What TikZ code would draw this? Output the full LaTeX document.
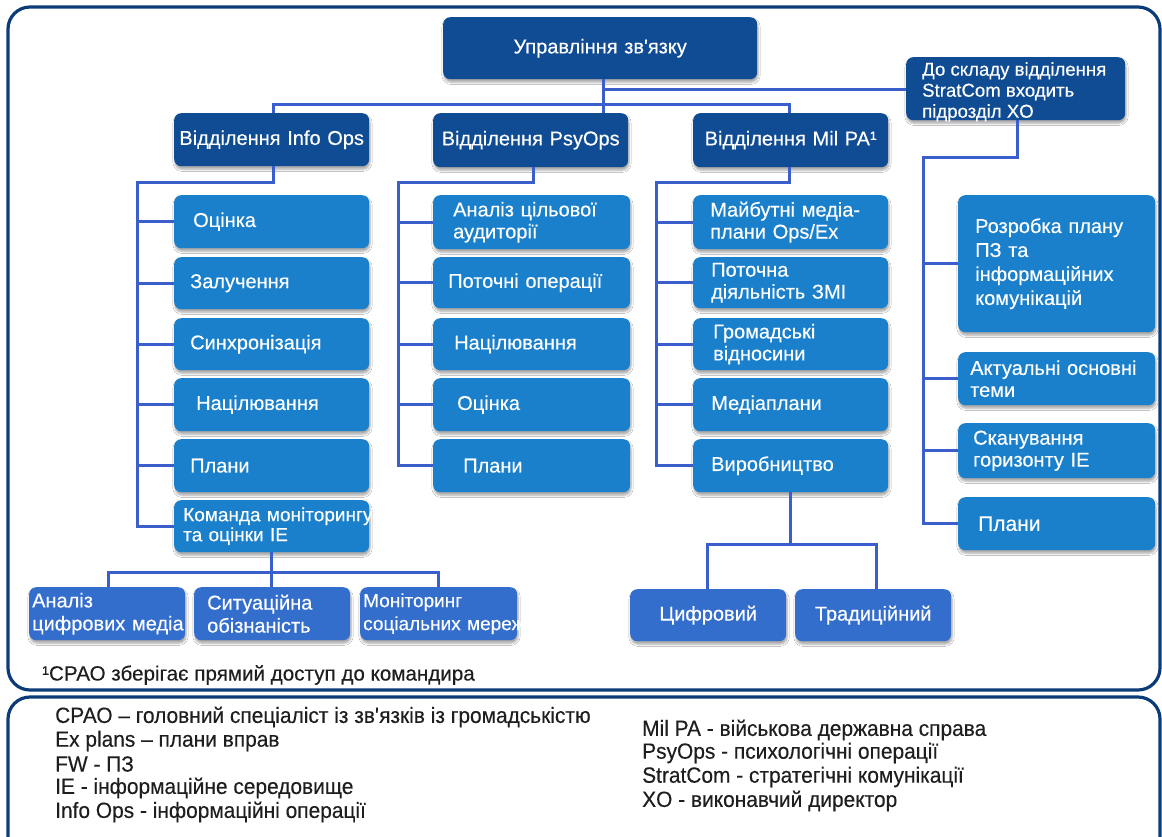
\documentclass[tikz,border=0pt]{standalone}
\usepackage{fontspec}
\setmainfont{Liberation Sans}
\newfontfamily\cardfam{Liberation Sans}[FakeBold=0.35]
\newfontfamily\notefam{Liberation Sans}[FakeBold=0.25]
\newfontfamily\legendfont{Liberation Sans}[FakeStretch=0.95,FakeBold=0.25]
\usetikzlibrary{shadows.blur}

\definecolor{navy}{RGB}{16,76,148}
\definecolor{sky}{RGB}{27,128,204}
\definecolor{royal}{RGB}{52,110,205}
\definecolor{wirecol}{RGB}{58,95,205}
\definecolor{framecol}{RGB}{12,60,120}
\definecolor{ink}{RGB}{30,30,30}

\newcommand\cardfont{\cardfam\fontsize{20}{22}\selectfont}
\newcommand\notefont{\notefam\fontsize{20.6}{24}\selectfont}
\newcommand\keyfont{\legendfont\fontsize{22}{24}\selectfont}

\begin{document}
\begin{tikzpicture}[x=1pt,y=-1pt,
  card/.style n args={3}{anchor=north west, rounded corners=7pt, text=white,
    font=\cardfont, minimum width=#1pt, minimum height=#2pt,
    inner xsep=#3pt, inner ysep=0pt, align=left,
    /utils/exec={\pgfmathsetlengthmacro\cardtw{#1pt-2*#3pt}}, text width=\cardtw,
    blur shadow={shadow xshift=0.8pt, shadow yshift=-3pt, shadow blur steps=6, shadow opacity=35}},
  dark/.style={fill=navy},
  lite/.style={fill=sky},
  roy/.style={fill=royal},
  wire/.style={draw=wirecol, line width=3pt},
  frame/.style={draw=framecol, line width=3.2pt, rounded corners=22pt},
  keyline/.style={anchor=west, inner sep=0pt, text=ink, font=\keyfont},
]
\useasboundingbox (0,0) rectangle (1162,836);
\fill[white] (0,0) rectangle (1162,836);

% outer frames
\draw[frame] (8,7) rectangle (1160,690);
\draw[frame] (8,697) rectangle (1160,880);

% head and departments
\node[card={314}{62}{10}, dark, align=center] (top) at (443,17) {Управління зв\textquotesingle язку};
\node[card={195}{53}{4}, dark, align=center] (info) at (174,113) {\mbox{Відділення Info Ops}};
\node[card={195}{54}{4}, dark, align=center] (psy) at (433,113) {\mbox{Відділення PsyOps}};
\node[card={195}{54}{4}, dark, align=center] (mil) at (693,113) {\mbox{Відділення Mil PA¹}};
\node[card={219}{63}{16}, dark] (strat) at (906,57) {};
\node[anchor=north west, inner sep=0pt, text=white, align=left,
      font=\cardfam\fontsize{18.6}{21}\selectfont] (stratlbl) at (922,62)
  {До складу відділення\\StratCom входить\\підрозділ XO};

% Info Ops column
\node[card={195}{53}{19}, lite] (i1) at (174,195) {Оцінка};
\node[card={195}{52}{16}, lite] (i2) at (174,257) {Залучення};
\node[card={195}{52}{16}, lite] (i3) at (174,318) {Синхронізація};
\node[card={195}{53}{22}, lite] (i4) at (174,378) {Націлювання};
\node[card={195}{53}{16}, lite] (i5) at (174,439) {Плани};
\node[card={195}{52}{9}, lite, font=\cardfam\fontsize{19}{20}\selectfont] (i6) at (174,500)
  {\mbox{Команда моніторингу}\\\mbox{та оцінки IE}};

% PsyOps column
\node[card={197}{54}{20}, lite] (p1) at (433,195) {\mbox{Аналіз цільової}\\аудиторії};
\node[card={197}{51}{15}, lite] (p2) at (433,257) {\mbox{Поточні операції}};
\node[card={197}{52}{21}, lite] (p3) at (433,318) {Націлювання};
\node[card={197}{53}{24}, lite] (p4) at (433,378) {Оцінка};
\node[card={197}{53}{30}, lite] (p5) at (433,439) {Плани};

% Mil PA column
\node[card={195}{54}{17}, lite] (m1) at (693,195) {\mbox{Майбутні медіа-}\\\mbox{плани Ops/Ex}};
\node[card={195}{51}{18}, lite] (m2) at (693,257) {Поточна\\\mbox{діяльність ЗМІ}};
\node[card={195}{52}{20}, lite] (m3) at (693,318) {Громадські\\відносини};
\node[card={195}{53}{18}, lite] (m4) at (693,378) {Медіаплани};
\node[card={195}{53}{18}, lite] (m5) at (693,439) {Виробництво};

% StratCom column
\node[card={197}{137}{17}, lite, font=\cardfam\fontsize{20}{24}\selectfont] (r1) at (958,195)
  {\mbox{Розробка плану}\\ПЗ та\\\mbox{інформаційних}\\комунікацій};
\node[card={197}{53}{12}, lite] (r2) at (958,352) {\mbox{Актуальні основні}\\теми};
\node[card={197}{55}{15}, lite] (r3) at (958,423) {Сканування\\\mbox{горизонту IE}};
\node[card={197}{53}{20}, lite, font=\cardfam\fontsize{21}{22}\selectfont] (r4) at (958,497) {Плани};

% monitoring team units
\node[card={156}{53}{3}, roy, font=\cardfam\fontsize{20}{23}\selectfont] (a1) at (29,587)
  {Аналіз\\\mbox{цифрових медіа}};
\node[card={156}{53}{13}, roy, font=\cardfam\fontsize{20}{23}\selectfont] (a2) at (194,587)
  {Ситуаційна\\обізнаність};
\node[card={157}{53}{3}, roy, font=\cardfam\fontsize{19}{23}\selectfont] (a3) at (360,587)
  {Моніторинг\\\mbox{соціальних мереж}};

% production units
\node[card={156}{52}{4}, roy, align=center] (c1) at (630,589) {Цифровий};
\node[card={156}{52}{4}, roy, align=center] (c2) at (795,589) {Традиційний};

% junction points
\coordinate (hub) at (603,89);
\coordinate (busL) at (273,104);
\coordinate (busR) at (789,104);
\coordinate (iT) at (273,182);
\coordinate (iL) at (137,182);
\coordinate (pT) at (533,182);
\coordinate (pL) at (398,182);
\coordinate (mT) at (789,182);
\coordinate (mL) at (656,182);
\coordinate (sT) at (1017,157);
\coordinate (sL) at (923,157);
\coordinate (kL) at (108,572);
\coordinate (kR) at (438,572);
\coordinate (vC) at (790,544);
\coordinate (vL) at (707,544);
\coordinate (vR) at (876,544);

% head links
\draw[wire] (top.south -| hub) -- (hub) -- (strat.west |- hub);
\draw[wire] (hub) -- (hub |- psy.north);
\draw[wire] (info.north -| busL) -- (busL) -- (busR) -- (busR |- mil.north);

% Info Ops comb
\draw[wire] (info.south -| iT) -- (iT) -- (iL) -- (iL |- i6.west) -- (i6.west);
\foreach \n in {i1,i2,i3,i4,i5} \draw[wire] (iL |- \n.west) -- (\n.west);

% PsyOps comb
\draw[wire] (psy.south -| pT) -- (pT) -- (pL) -- (pL |- p5.west) -- (p5.west);
\foreach \n in {p1,p2,p3,p4} \draw[wire] (pL |- \n.west) -- (\n.west);

% Mil PA comb
\draw[wire] (mil.south -| mT) -- (mT) -- (mL) -- (mL |- m5.west) -- (m5.west);
\foreach \n in {m1,m2,m3,m4} \draw[wire] (mL |- \n.west) -- (\n.west);

% StratCom comb
\draw[wire] (strat.south -| sT) -- (sT) -- (sL) -- (sL |- r4.west) -- (r4.west);
\foreach \n in {r1,r2,r3} \draw[wire] (sL |- \n.west) -- (\n.west);

% monitoring team branches
\draw[wire] (i6.south) -- (i6.south |- a2.north);
\draw[wire] (a1.north -| kL) -- (kL) -- (kR) -- (a3.north -| kR);

% production branches
\draw[wire] (m5.south -| vC) -- (vC);
\draw[wire] (c1.north -| vL) -- (vL) -- (vR) -- (c2.north -| vR);

% footnote
\node[anchor=west, inner sep=0pt, text=ink, font=\notefont] (note) at (42,675)
  {¹СРАО зберігає прямий доступ до командира};

% abbreviations
\node[keyline] (k1) at (55,717) {СРАО – головний спеціаліст із зв\textquotesingle язків із громадськістю};
\node[keyline] (k2) at (55,741) {Ex plans – плани вправ};
\node[keyline] (k3) at (55,764) {FW - ПЗ};
\node[keyline] (k4) at (55,788) {IE - інформаційне середовище};
\node[keyline] (k5) at (55,812) {Info Ops - інформаційні операції};
\node[keyline] (k6) at (642,730) {Mil PA - військова державна справа};
\node[keyline] (k7) at (642,753) {PsyOps - психологічні операції};
\node[keyline] (k8) at (642,777) {StratCom - стратегічні комунікації};
\node[keyline] (k9) at (642,801) {XO - виконавчий директор};
\end{tikzpicture}
\end{document}
